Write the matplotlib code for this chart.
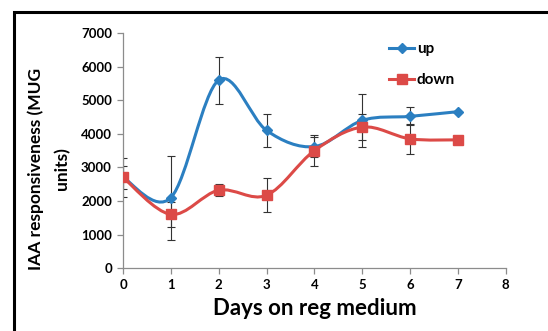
import matplotlib
matplotlib.use("Agg")
import matplotlib.pyplot as plt
from matplotlib.path import Path
from matplotlib.patches import PathPatch, Rectangle
from matplotlib.lines import Line2D
import numpy as np

days = [0, 1, 2, 3, 4, 5, 6, 7]
up = [2700, 2100, 5600, 4100, 3620, 4400, 4520, 4660]
up_err = [580, 1250, 700, 500, 300, 800, 270, 0]
down = [2700, 1600, 2320, 2170, 3500, 4200, 3850, 3820]
down_err = [330, 370, 180, 500, 450, 380, 450, 0]

BLUE = "#2b7fc1"
RED = "#dc4a47"
FONT = "Lato"


def smooth_path(x, y):
    # Excel style smoothed line: cubic Bezier through every point
    x = np.asarray(x, float)
    y = np.asarray(y, float)
    px = np.concatenate([[x[0]], x, [x[-1]]])
    py = np.concatenate([[y[0]], y, [y[-1]]])
    verts = [(x[0], y[0])]
    codes = [Path.MOVETO]
    for i in range(1, len(px) - 2):
        c1 = (px[i] + (px[i + 1] - px[i - 1]) / 6, py[i] + (py[i + 1] - py[i - 1]) / 6)
        c2 = (px[i + 1] - (px[i + 2] - px[i]) / 6, py[i + 1] - (py[i + 2] - py[i]) / 6)
        verts += [c1, c2, (px[i + 1], py[i + 1])]
        codes += [Path.CURVE4] * 3
    return Path(verts, codes)


fig = plt.figure(figsize=(5.48, 3.31), dpi=100)
ax = fig.add_axes([0.2245, 0.19, 0.6985, 0.71])

for vals, errs, color, marker, ms in [(up, up_err, BLUE, "D", 5.5), (down, down_err, RED, "s", 7.5)]:
    ax.add_patch(PathPatch(smooth_path(days, vals), facecolor="none", edgecolor=color, lw=2.2, zorder=3))
    ax.errorbar(days, vals, yerr=errs, fmt="none", ecolor="#333333", elinewidth=0.8,
                capsize=3, capthick=0.8, zorder=2)
    ax.plot(days, vals, ls="none", marker=marker, ms=ms, color=color, zorder=4)

ax.set_xlim(0, 8)
ax.set_ylim(0, 7000)
ax.set_xticks(range(0, 9))
ax.set_yticks(range(0, 7001, 1000))
for s in ["top", "right"]:
    ax.spines[s].set_visible(False)
for s in ["left", "bottom"]:
    ax.spines[s].set_color("#8c8c8c")
    ax.spines[s].set_linewidth(0.9)
ax.tick_params(direction="out", length=4, color="#8c8c8c", width=0.9, pad=4)
for lab in ax.get_xticklabels() + ax.get_yticklabels():
    lab.set_fontfamily(FONT)
    lab.set_fontweight("bold")
    lab.set_fontsize(9.5)

ax.set_xlabel("Days on reg medium", fontfamily=FONT, fontweight="bold", fontsize=16, labelpad=5)
fig.text(0.066, 0.49, "IAA responsiveness (MUG", rotation=90, ha="center", va="center",
         fontfamily=FONT, fontweight="bold", fontsize=12.5)
fig.text(0.113, 0.49, "units)", rotation=90, ha="center", va="center",
         fontfamily=FONT, fontweight="bold", fontsize=12.5)

handles = [Line2D([], [], color=BLUE, lw=2.2, marker="D", ms=5),
           Line2D([], [], color=RED, lw=2.2, marker="s", ms=7)]
ax.legend(handles, ["up", "down"], loc="upper left", bbox_to_anchor=(0.66, 1.02), frameon=False,
          handlelength=1.6, handletextpad=0.2, labelspacing=1.1,
          prop={"family": FONT, "weight": "bold", "size": 11})

fig.patches.append(Rectangle((0.026, -0.1), 1.1, 1.064, transform=fig.transFigure,
                             fill=False, edgecolor="black", lw=2.2, zorder=10))

fig.savefig("out.png", dpi=100)
